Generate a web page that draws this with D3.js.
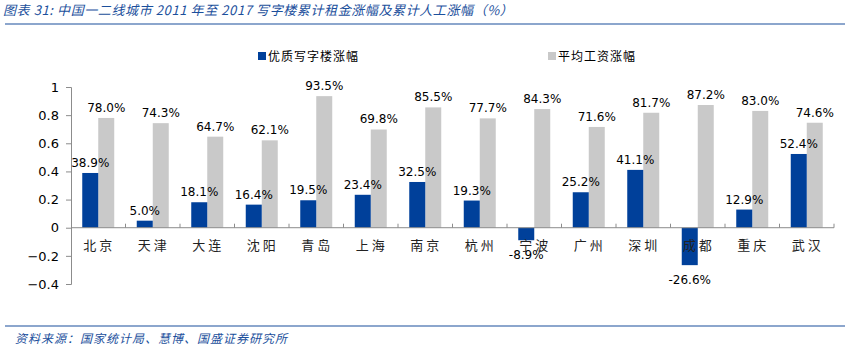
<!DOCTYPE html>
<html>
<head>
<meta charset="utf-8">
<script src="https://cdn.jsdelivr.net/npm/d3@7"></script>
<style>
  body { margin: 0; background: #fff; }
  text { font-family: "DejaVu Sans", Verdana, sans-serif; }
  .cjk { font-family: "Noto Sans CJK SC", sans-serif; }
</style>
</head>
<body>
<div id="chart"></div>
<script>
const cities = ["北京", "天津", "大连", "沈阳", "青岛", "上海", "南京", "杭州", "宁波", "广州", "深圳", "成都", "重庆", "武汉"];
const officeRise = [38.9, 5.0, 18.1, 16.4, 19.5, 23.4, 32.5, 19.3, -8.9, 25.2, 41.1, -26.6, 12.9, 52.4];
const wageRise = [78.0, 74.3, 64.7, 62.1, 93.5, 69.8, 85.5, 77.7, 84.3, 71.6, 81.7, 87.2, 83.0, 74.6];
const yTicks = [-0.4, -0.2, 0, 0.2, 0.4, 0.6, 0.8, 1];
const seriesNames = ["优质写字楼涨幅", "平均工资涨幅"];

const blue = "#00409a", gray = "#c9c9c9", titleBlue = "#1b4f9c";

const W = 850, H = 353;
const svg = d3.select("#chart")
              .append("svg")
              .attr("width", W)
              .attr("height", H);

// title + rules
svg.append("text")
   .attr("class", "cjk")
   .attr("x", 3)
   .attr("y", 15)
   .attr("fill", titleBlue)
   .attr("font-size", 13)
   .attr("font-style", "italic")
   .attr("letter-spacing", 0.6)
   .text("图表 31:  中国一二线城市 2011 年至 2017 写字楼累计租金涨幅及累计人工涨幅（%）");

svg.append("line")
   .attr("x1", 5).attr("x2", 845)
   .attr("y1", 24).attr("y2", 24)
   .attr("stroke", titleBlue).attr("stroke-width", 1.2);

svg.append("line")
   .attr("x1", 5).attr("x2", 845)
   .attr("y1", 326).attr("y2", 326)
   .attr("stroke", titleBlue).attr("stroke-width", 1.2);

svg.append("text")
   .attr("class", "cjk")
   .attr("x", 15)
   .attr("y", 343)
   .attr("fill", titleBlue)
   .attr("font-size", 12)
   .attr("font-style", "italic")
   .attr("letter-spacing", 1)
   .text("资料来源：国家统计局、慧博、国盛证券研究所");

// scales
const x = d3.scaleBand()
            .domain(cities)
            .range([71, 834]);

const y = d3.scaleLinear()
            .domain([-0.4, 1])
            .range([284, 87]);

const barW = 16;

// y axis
const yAxis = svg.append("g")
                 .attr("transform", "translate(71,0)")
                 .call(d3.axisLeft(y).tickValues(yTicks).tickSize(5).tickFormat(d => d3.format("")(+d.toFixed(1))));
yAxis.select(".domain").attr("stroke", "#8c8c8c");
yAxis.selectAll(".tick line").attr("stroke", "#8c8c8c");
yAxis.selectAll(".tick text")
     .attr("x", -12)
     .attr("font-size", 13)
     .attr("font-family", "DejaVu Sans, sans-serif")
     .attr("fill", "#000");

// bars
const g = svg.append("g");

g.selectAll("rect.wage")
 .data(wageRise)
 .join("rect")
 .attr("class", "wage")
 .attr("x", (d, i) => x(cities[i]) + x.bandwidth() / 2)
 .attr("y", d => y(d / 100))
 .attr("width", barW)
 .attr("height", d => y(0) - y(d / 100))
 .attr("fill", gray);

g.selectAll("rect.office")
 .data(officeRise)
 .join("rect")
 .attr("class", "office")
 .attr("x", (d, i) => x(cities[i]) + x.bandwidth() / 2 - barW)
 .attr("y", d => y(Math.max(0, d / 100)))
 .attr("width", barW)
 .attr("height", d => Math.abs(y(0) - y(d / 100)))
 .attr("fill", blue);

// zero line + category ticks
svg.append("line")
   .attr("x1", 71).attr("x2", 834)
   .attr("y1", y(0)).attr("y2", y(0))
   .attr("stroke", "#8c8c8c");

svg.selectAll("line.ctick")
   .data(cities.slice(1).concat(["end"]))
   .join("line")
   .attr("class", "ctick")
   .attr("x1", (d, i) => 71 + (i + 1) * x.step())
   .attr("x2", (d, i) => 71 + (i + 1) * x.step())
   .attr("y1", y(0) - 4).attr("y2", y(0))
   .attr("stroke", "#8c8c8c");

// category labels
svg.selectAll("text.cat")
   .data(cities)
   .join("text")
   .attr("class", "cat cjk")
   .attr("x", d => x(d) + x.bandwidth() / 2 + 1)
   .attr("y", y(0) + 22)
   .attr("text-anchor", "middle")
   .attr("font-size", 13)
   .attr("letter-spacing", 3)
   .attr("fill", "#222")
   .text(d => d);

// value labels
const fmt = d => d.toFixed(1) + "%";

svg.selectAll("text.wl")
   .data(wageRise)
   .join("text")
   .attr("class", "wl")
   .attr("x", (d, i) => x(cities[i]) + x.bandwidth() / 2 + barW / 2)
   .attr("y", d => y(d / 100) - 6)
   .attr("text-anchor", "middle")
   .attr("font-size", 12)
   .text(fmt);

svg.selectAll("text.ol")
   .data(officeRise)
   .join("text")
   .attr("class", "ol")
   .attr("x", (d, i) => x(cities[i]) + x.bandwidth() / 2 - barW / 2)
   .attr("y", d => d >= 0 ? y(d / 100) - 6 : y(d / 100) + 19)
   .attr("text-anchor", "middle")
   .attr("font-size", 12)
   .text(fmt);

// legend
const legend = svg.append("g");
[[258, blue], [548, gray]].forEach(([lx, c], i) => {
  legend.append("rect")
        .attr("x", lx).attr("y", 52)
        .attr("width", 8).attr("height", 8)
        .attr("fill", c);
  legend.append("text")
        .attr("class", "cjk")
        .attr("x", lx + 10).attr("y", 61)
        .attr("font-size", 12)
        .attr("letter-spacing", 1)
        .text(seriesNames[i]);
});
</script>
</body>
</html>
